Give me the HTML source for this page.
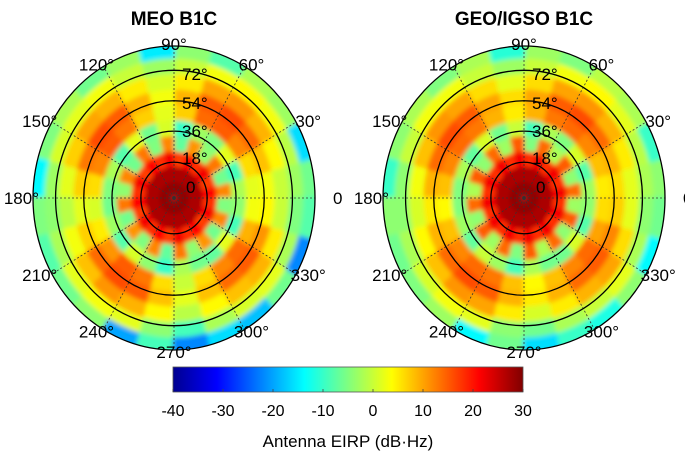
<!DOCTYPE html>
<html><head><meta charset="utf-8"><style>
body{margin:0;background:#fff;width:685px;height:454px;overflow:hidden}
svg{display:block;font-family:"Liberation Sans",Arial,sans-serif}
</style></head><body>
<svg id="chart" width="685" height="454" viewBox="0 0 685 454">
<defs>
<filter id="blur" x="-10%" y="-10%" width="120%" height="120%"><feGaussianBlur stdDeviation="2.5"/></filter>
<linearGradient id="jet" x1="0" x2="1" y1="0" y2="0">
<stop offset="0" stop-color="#00008f"/><stop offset="0.125" stop-color="#0000ff"/><stop offset="0.375" stop-color="#00ffff"/><stop offset="0.625" stop-color="#ffff00"/><stop offset="0.875" stop-color="#ff0000"/><stop offset="1" stop-color="#800000"/>
</linearGradient>
</defs>
</svg>
<script>
// Polar heatmap data: rings from center (0) to edge (9), 24 azimuth sectors of 15° starting at 0° (east), CCW
const sectorsDeg = [0,15,30,45,60,75,90,105,120,135,150,165,180,195,210,225,240,255,270,285,300,315,330,345];
const meoGrid = [
 [29,29,29,29,29,29,29,29,29,29,29,29,29,29,29,29,29,29,29,29,29,29,29,29],
 [27,27,27,27,27,27,27,27,27,27,27,27,27,27,27,27,27,27,27,27,27,27,27,27],
 [21,17,22,18,21,17,22,18,21,17,22,18,21,17,22,18,21,17,22,18,21,17,22,18],
 [12,-6,13,-4,11,-7,12,-5,13,-6,12,-4,13,-6,11,-5,12,-7,13,-4,11,-6,12,-5],
 [-2,-9,2,-5,-3,-10,1,-6,2,-8,-2,-5,-6,-3,-8,1,-4,-10,-2,-6,-7,2,-9,-4],
 [2,6,12,15,14,7,2,7,13,15,12,6,1,5,11,15,13,6,0,6,12,14,9,3],
 [3,8,14,16,15,9,3,9,15,16,13,7,2,7,14,16,15,8,2,8,14,15,11,4],
 [0,4,9,11,10,5,1,5,9,10,7,2,-1,3,8,11,9,4,-1,4,8,9,5,0],
 [-3,-1,3,4,3,0,-3,0,3,2,1,-3,-4,-2,2,3,2,-4,-9,-2,1,2,-2,-5],
 [-6,-16,-3,-2,-8,-4,-15,-3,-6,-2,-5,-14,-5,-8,-6,-4,-20,-9,-22,-16,-18,-6,-22,-8]
];
const geoGrid = [
 [29,29,29,29,29,29,29,29,29,29,29,29,29,29,29,29,29,29,29,29,29,29,29,29],
 [27,27,27,27,27,27,27,27,27,27,27,27,27,27,27,27,27,27,27,27,27,27,27,27],
 [22,18,22,18,22,18,22,18,22,18,22,18,22,18,22,18,22,18,22,18,22,18,22,18],
 [14,-4,15,-2,14,-5,15,-3,14,-4,15,-2,14,-4,15,-3,14,-5,15,-2,14,-4,15,-3],
 [-3,-8,1,-5,-2,-9,0,-6,1,-7,-2,-5,-5,-3,-7,0,-3,-9,-2,-6,-6,1,-8,-4],
 [5,8,12,14,13,9,5,9,13,14,12,8,4,8,12,14,13,8,4,8,12,14,10,6],
 [6,9,14,16,15,10,6,10,15,16,14,9,5,9,14,16,15,9,5,9,14,15,12,7],
 [2,5,9,11,10,6,2,6,10,11,8,3,1,4,8,11,10,5,1,5,9,10,6,2],
 [-2,-1,2,4,3,0,-3,0,3,3,0,-4,-4,-2,1,3,2,-4,-6,-2,0,2,-2,-4],
 [-4,-10,-2,-1,-5,-3,-11,-2,-5,-2,-4,-10,-4,-6,-5,-3,-14,-6,-16,-10,-12,-4,-14,-6]
];
const cbTicks = [-40,-30,-20,-10,0,10,20,30];
const ringLabels = ["0","18°","36°","54°","72°","90°"];
const angleLabels = [0,30,60,90,120,150,180,210,240,270,300,330];

const NS = "http://www.w3.org/2000/svg";
const svg = document.getElementById('chart');
const vMin = -40, vMax = 30;
function mk(tag, attrs, parent){const e=document.createElementNS(NS,tag);for(const k in attrs)e.setAttribute(k,attrs[k]);(parent||svg).appendChild(e);return e;}
function jet(v){
  const t=Math.max(0,Math.min(1,(v-vMin)/(vMax-vMin)));
  const c=x=>Math.round(255*Math.max(0,Math.min(1,1.5-Math.abs(x))));
  return `rgb(${c(4*t-3)},${c(4*t-2)},${c(4*t-1)})`;
}
const RX=141, RY=152;
const ringFracs=[0.235,0.44,0.64,0.84];

function drawPolar(cx, cy, grid, title, name){
  const g = mk('g',{});
  
  
  const cid = 'clip-'+name;
  const cp = mk('clipPath',{id:cid}, svg.querySelector('defs'));
  mk('ellipse',{cx:cx,cy:cy,rx:RX,ry:RY},cp);
  const clipG = mk('g',{'clip-path':`url(#${cid})`},g);
  const heat = mk('g',{filter:'url(#blur)'},clipG);
  
  
  const nR = grid.length, nS = sectorsDeg.length, dA = 360/nS;
  const rScale = i => i/nR*1.02;
  for(let i=0;i<nR;i++){
    for(let s=0;s<nS;s++){
      const a0=(sectorsDeg[s]-0.5)*Math.PI/180, a1=(sectorsDeg[s]+dA+0.5)*Math.PI/180;
      const r0=rScale(i), r1=rScale(i+1)+0.01;
      const p=(r,a)=>`${(cx+RX*r*Math.cos(a)).toFixed(2)},${(cy-RY*r*Math.sin(a)).toFixed(2)}`;
      const d=`M${p(r0,a0)} L${p(r1,a0)} A${RX*r1},${RY*r1} 0 0 0 ${p(r1,a1)} L${p(r0,a1)} `+(r0>0?`A${RX*r0},${RY*r0} 0 0 1 ${p(r0,a0)}`:'')+'Z';
      const cell = mk('path',{d:d,fill:jet(grid[i][s])},heat);
      
      
    }
  }
  for(const a of angleLabels){
    const r=a*Math.PI/180;
    mk('line',{x1:cx,y1:cy,x2:cx+RX*Math.cos(r),y2:cy-RY*Math.sin(r),stroke:'#333','stroke-width':0.8,'stroke-dasharray':'2,2'},g);
  }
  for(const f of ringFracs){
    const c = mk('ellipse',{cx:cx,cy:cy,rx:RX*f,ry:RY*f,fill:'none',stroke:'#000','stroke-width':1.3},g);
    
    
  }
  const outer = mk('ellipse',{cx:cx,cy:cy,rx:RX,ry:RY,fill:'none',stroke:'#000','stroke-width':1.3},g);
  
  
  const ry=[187,158,131,103,74,45];
  ringLabels.forEach((t,i)=>{
    if(i===5) return;
    const tx = mk('text',{x:cx+(i===0?12:8),y:ry[i]+6,'font-size':17,fill:'#000'},g);
    tx.textContent=t;
    
    
  });
  for(const a of angleLabels){
    const r=a*Math.PI/180;
    const lx=cx+(RX+14)*Math.cos(r), ly=cy-(RY+2)*Math.sin(r);
    let anchor='middle';
    if(a===0) anchor='start';
    if(a===180) anchor='end';
    const tx = mk('text',{x:a===0?cx+RX+18:(a===180?cx-RX+6:lx),y:ly+6,'font-size':17,'text-anchor':anchor,fill:'#000'},g);
    tx.textContent = a===0?'0':a+'°';
    
    
  }
  const tt = mk('text',{x:cx,y:25,'font-size':19,'font-weight':'bold','text-anchor':'middle',fill:'#000'},g);
  tt.textContent=title;
  
  
}
drawPolar(174,198,meoGrid,'MEO B1C','meo-polar-plot');
drawPolar(524,198,geoGrid,'GEO/IGSO B1C','geo-polar-plot');

const cbX=173, cbW=350, cbY=367, cbH=25;
const cb = mk('rect',{x:cbX,y:cbY,width:cbW,height:cbH,fill:'url(#jet)',stroke:'#555','stroke-width':0.8});


const cbx = v => cbX + (v-vMin)/(vMax-vMin)*cbW;
for(const v of cbTicks){
  mk('line',{x1:cbx(v),x2:cbx(v),y1:cbY+cbH,y2:cbY+cbH-3,stroke:'#444','stroke-width':0.8});
  const t = mk('text',{x:cbx(v),y:416,'font-size':16,'text-anchor':'middle',fill:'#000'});
  t.textContent=v;
  
  
}
const lbl = mk('text',{x:348,y:447,'font-size':17,'text-anchor':'middle',fill:'#000'});
lbl.textContent='Antenna EIRP (dB·Hz)';


</script>
</body></html>
